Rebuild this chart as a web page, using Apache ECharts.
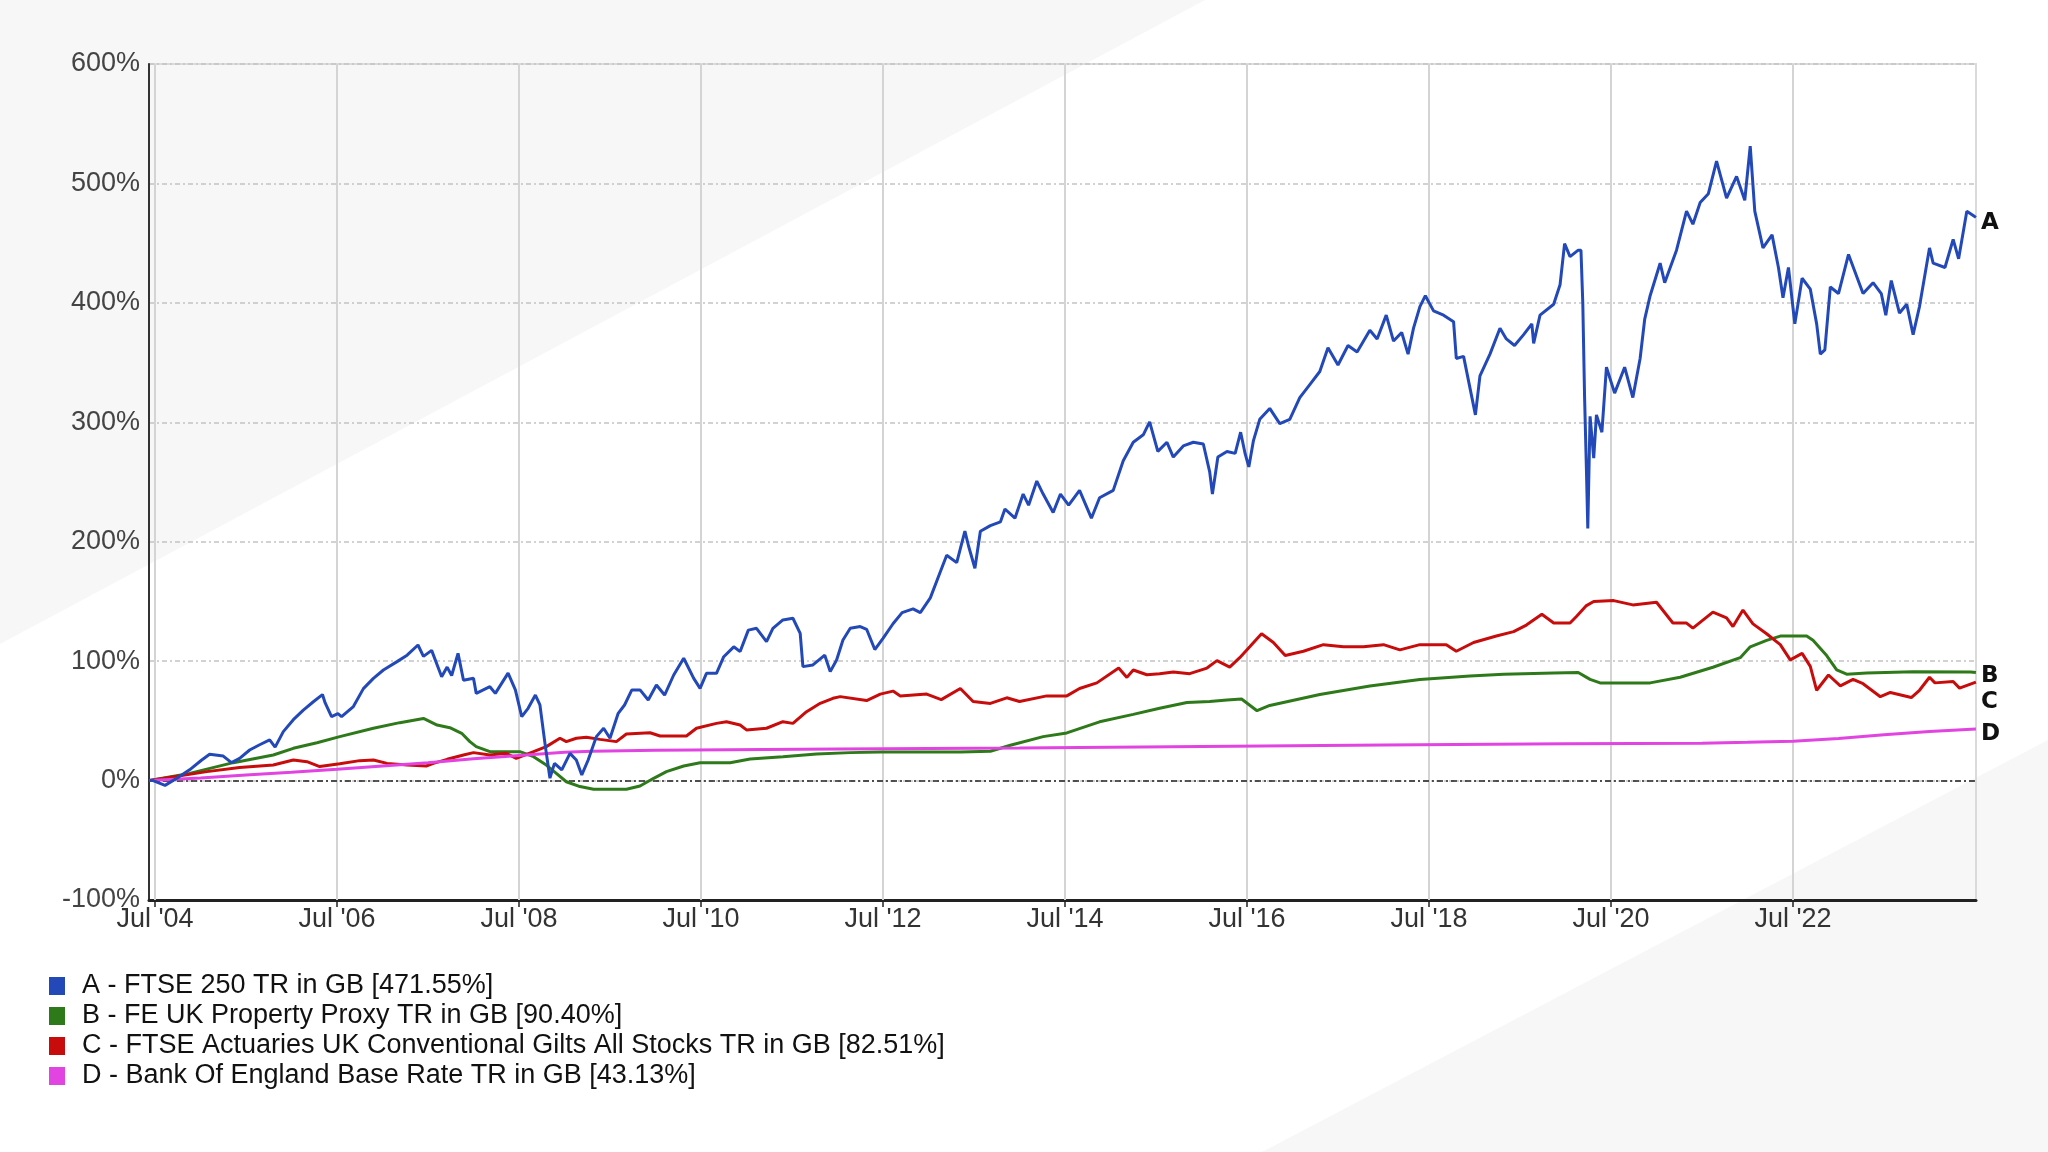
<!DOCTYPE html>
<html>
<head>
<meta charset="utf-8">
<script src="https://cdn.jsdelivr.net/npm/echarts@6/dist/echarts.min.js"></script>
<style>
html,body{margin:0;padding:0;background:#fff;}
#chart{width:2048px;height:1152px;}
</style>
</head>
<body>
<div id="chart"></div>
<script>
// ---- tick labels (x axis, decimal years) ----
const tickYears = [2004.5, 2006.5, 2008.5, 2010.5, 2012.5, 2014.5, 2016.5, 2018.5, 2020.5, 2022.5];
const tickLabels = ["Jul '04", "Jul '06", "Jul '08", "Jul '10", "Jul '12", "Jul '14", "Jul '16", "Jul '18", "Jul '20", "Jul '22"];

// ---- series names ----
const seriesNames = [
  "A - FTSE 250 TR in GB [471.55%]",
  "B - FE UK Property Proxy TR in GB [90.40%]",
  "C - FTSE Actuaries UK Conventional Gilts All Stocks TR in GB [82.51%]",
  "D - Bank Of England Base Rate TR in GB [43.13%]"
];
const endLetters = ["A", "B", "C", "D"];

// ---- A: FTSE 250 TR (decimal year, % growth) ----
const aYears = [2004.44,2004.48,2004.61,2004.74,2004.88,2005.01,2005.10,2005.25,2005.34,2005.43,2005.54,2005.65,2005.76,2005.82,2005.91,2006.02,2006.13,2006.24,2006.34,2006.37,2006.44,2006.51,2006.55,2006.68,2006.79,2006.90,2007.01,2007.16,2007.27,2007.39,2007.45,2007.54,2007.65,2007.71,2007.76,2007.83,2007.89,2008.00,2008.03,2008.18,2008.24,2008.38,2008.46,2008.53,2008.60,2008.68,2008.73,2008.79,2008.84,2008.89,2008.97,2009.06,2009.13,2009.19,2009.26,2009.35,2009.43,2009.50,2009.59,2009.66,2009.74,2009.83,2009.92,2010.01,2010.10,2010.20,2010.31,2010.42,2010.49,2010.56,2010.67,2010.75,2010.86,2010.93,2011.02,2011.11,2011.22,2011.29,2011.40,2011.51,2011.59,2011.62,2011.73,2011.86,2011.92,2011.99,2012.06,2012.14,2012.25,2012.32,2012.41,2012.50,2012.61,2012.71,2012.83,2012.91,2013.02,2013.13,2013.20,2013.31,2013.40,2013.44,2013.51,2013.57,2013.68,2013.79,2013.84,2013.95,2014.04,2014.10,2014.19,2014.26,2014.37,2014.45,2014.54,2014.66,2014.79,2014.88,2015.03,2015.14,2015.25,2015.36,2015.43,2015.52,2015.62,2015.69,2015.80,2015.91,2016.02,2016.09,2016.12,2016.18,2016.28,2016.37,2016.43,2016.48,2016.52,2016.57,2016.64,2016.75,2016.86,2016.97,2017.08,2017.19,2017.30,2017.39,2017.50,2017.61,2017.71,2017.85,2017.93,2018.03,2018.11,2018.20,2018.27,2018.33,2018.40,2018.46,2018.55,2018.66,2018.77,2018.80,2018.88,2019.01,2019.06,2019.17,2019.28,2019.35,2019.44,2019.54,2019.63,2019.65,2019.72,2019.87,2019.94,2019.99,2020.05,2020.14,2020.17,2020.19,2020.21,2020.23,2020.245,2020.27,2020.31,2020.34,2020.40,2020.45,2020.54,2020.65,2020.74,2020.82,2020.87,2020.93,2021.04,2021.09,2021.22,2021.33,2021.40,2021.48,2021.57,2021.66,2021.77,2021.88,2021.97,2022.03,2022.08,2022.17,2022.27,2022.34,2022.39,2022.45,2022.52,2022.60,2022.69,2022.76,2022.80,2022.85,2022.91,2023.00,2023.11,2023.27,2023.38,2023.47,2023.52,2023.58,2023.67,2023.75,2023.82,2023.89,2024.00,2024.04,2024.17,2024.26,2024.32,2024.41,2024.48,2024.51];
const aValues = [0,0,-4,2,9,17,22,20.5,15,18.6,25.6,30,34,28,41,51,59,66,72,65,53.5,56,53.5,62,77,85.6,92.6,99.6,105,113.5,104,109,87,95,88,106.5,84,85.6,73,78.6,73,90,76,53.5,60.5,71.6,63.3,28.4,2,14.4,8.9,22.8,17.2,4.7,17.2,36.8,43.8,35.4,56.3,63.3,75.9,75.9,67.5,80,71.6,88.4,102.4,85.6,77.2,89.8,89.8,103.7,112,108,126,127.5,116.3,127.5,134.5,135.9,123.3,95.4,96.8,105,91.2,101,117.7,127.5,129,126.7,109.7,119,131.3,140.6,143.8,140.6,153,174.8,188.7,182.5,208.8,196.4,177.8,208.8,213.5,216.6,227.4,219.7,239.9,230.6,250.8,239.9,224.4,239.9,230.6,243,219.7,236.8,243,267.8,283.3,289.5,300.4,275.6,283.3,270.9,280.2,283.3,281.8,258.5,239.9,270.9,275.6,274,291.7,273.5,262.6,284.4,302.5,311.6,298.9,302.5,320.7,331.6,342.5,362.5,348,364.3,358.9,377,369.8,389.7,368,375.2,357.1,378.8,396.9,406,393.3,389.7,384.2,353.4,355.2,306.2,338.9,357.1,378.8,369.8,364.3,373.4,382.4,366.1,389.7,398.8,415.1,449.6,438.7,444.1,444,400,320,260,211,305,270,306.2,291.7,346.1,324.4,346.1,320.7,353.4,386.1,406,433.2,416.9,444.1,476.8,465.9,484,491.4,518.6,487.7,505.9,485.9,531.3,476.8,446,456.9,429.6,404.2,429.6,382.4,420.6,411.5,382.4,357.1,360.7,413.3,407.8,440.5,407.8,416.9,407.8,389.7,418.7,391.5,398.8,373.4,396.9,446,433.2,429.6,453.2,436.9,476.8,473.2,471.55];

// ---- B: FE UK Property Proxy TR ----
const bYears = [2004.44,2004.88,2005.36,2005.80,2006.02,2006.28,2006.53,2006.90,2007.19,2007.45,2007.60,2007.74,2007.87,2007.96,2008.03,2008.18,2008.51,2008.66,2008.80,2008.91,2009.02,2009.17,2009.32,2009.68,2009.83,2009.98,2010.12,2010.31,2010.49,2010.82,2011.04,2011.40,2011.77,2012.14,2012.47,2013.35,2013.68,2013.90,2014.26,2014.52,2014.88,2015.25,2015.54,2015.84,2016.09,2016.28,2016.44,2016.61,2016.75,2017.30,2017.85,2018.40,2018.95,2019.32,2019.87,2020.14,2020.27,2020.38,2020.93,2021.26,2021.62,2021.92,2022.03,2022.21,2022.36,2022.65,2022.72,2022.87,2022.98,2023.09,2023.31,2023.82,2024.45,2024.51];
const bValues = [0,6,15,21.4,27,31.7,36.8,43.8,48.5,52,46.5,44.3,39.6,32.6,28.4,24.2,24.2,20,13,6,-1,-5,-7.3,-7.3,-4.5,1.9,7.5,12.2,15,15,18,20,22.3,23.4,24,24,24.6,29.6,36.8,39.9,49.2,55.4,60.6,65.3,66.2,67.5,68.3,58.5,62.9,72,79.2,84.7,87.6,89.1,90.1,90.5,84.7,81.8,81.8,86.5,94.9,102.9,112,117.4,121,121,117.4,104.7,92.7,89.1,90.1,91.2,91,90.4];

// ---- C: FTSE Actuaries UK Conventional Gilts All Stocks TR ----
const cYears = [2004.44,2005.07,2005.43,2005.80,2006.02,2006.17,2006.31,2006.53,2006.75,2006.90,2007.05,2007.27,2007.48,2007.56,2007.71,2007.89,2008.00,2008.18,2008.36,2008.47,2008.66,2008.80,2008.95,2009.02,2009.13,2009.24,2009.39,2009.57,2009.68,2009.94,2010.05,2010.34,2010.45,2010.67,2010.78,2010.93,2011.00,2011.22,2011.40,2011.51,2011.66,2011.81,2011.95,2012.03,2012.32,2012.47,2012.61,2012.69,2012.98,2013.14,2013.35,2013.49,2013.68,2013.86,2014.00,2014.30,2014.52,2014.66,2014.85,2015.09,2015.18,2015.25,2015.40,2015.54,2015.69,2015.87,2016.06,2016.17,2016.31,2016.42,2016.53,2016.66,2016.79,2016.92,2017.12,2017.34,2017.56,2017.78,2018.00,2018.18,2018.40,2018.69,2018.80,2018.99,2019.24,2019.43,2019.57,2019.74,2019.87,2020.05,2020.12,2020.23,2020.31,2020.53,2020.74,2021.00,2021.18,2021.33,2021.40,2021.62,2021.77,2021.84,2021.95,2022.06,2022.21,2022.36,2022.47,2022.60,2022.69,2022.76,2022.89,2023.02,2023.16,2023.27,2023.46,2023.57,2023.80,2023.89,2024.00,2024.06,2024.26,2024.33,2024.51];
const cValues = [0,7.5,11,13,17.2,15.8,11.7,14,16.7,17.2,14.4,13,12.2,14.4,17.8,21.4,23.4,21.4,22.8,18.6,24.2,28.4,35.4,32.6,35.4,36.2,34.5,32.6,39,40,37.3,37.3,43.8,47.9,49.3,46.5,42.4,43.8,49.3,47.9,57.7,64.7,68.9,70.3,67,72.4,74.9,70.9,72.4,67.8,77.1,66.2,64.6,69.3,66.2,70.9,70.9,77.1,81.8,94.2,86.4,92.6,88.6,89.5,91,89.5,94.2,100.4,95,102.9,112,122.9,115.6,104.7,108.3,113.8,112,112,113.8,109.4,113.8,113.8,108.3,115.6,121,124.7,130.2,139.2,131.9,131.9,137.4,146.5,150,150.7,147.1,149.3,131.9,131.9,127.6,141,136.3,129,142.8,131.2,122.9,113.8,101.1,106.5,95.6,75.6,88.4,79.3,84.7,81.1,70.2,73.8,69.5,75.6,86.5,81.8,82.9,77.4,82.51];

// ---- D: Bank Of England Base Rate TR ----
const dYears = [2004.44,2005.0,2005.5,2006.0,2006.5,2007.0,2007.5,2008.0,2008.5,2009.0,2009.3,2010.0,2012.0,2014.0,2016.0,2018.0,2020.0,2021.5,2022.0,2022.5,2023.0,2023.5,2024.0,2024.51];
const dValues = [0,2.2,4.6,7,9.5,12.3,15,18.2,21,23.8,24.5,25.3,26.5,27.3,28.5,29.8,30.8,31.2,32,33,35.3,38.3,41,43.13];

// ---- y axis ----
const yMin = -100, yMax = 600, yStep = 100;

const colors = ['#2349b8', '#2e7a1b', '#c80c0c', '#e244e2'];
const FONT = 'Liberation Sans, Arial, sans-serif';

function pairs(xs, ys) { return xs.map((x, i) => [x, ys[i]]); }

const chart = echarts.init(document.getElementById('chart'), null, {renderer: 'canvas'});

const seriesData = [pairs(aYears, aValues), pairs(bYears, bValues), pairs(cYears, cValues), pairs(dYears, dValues)];
const zOrder = [6, 3, 4, 5];
const endOffsets = [[0, 6], [0, 3], [0, 20], [0, 5]];

const dataSeries = seriesData.map((d, i) => ({
  name: seriesNames[i],
  type: 'line',
  data: d,
  z: zOrder[i],
  showSymbol: false,
  symbol: 'none',
  lineStyle: {color: colors[i], width: 3},
  itemStyle: {color: colors[i]},
  emphasis: {disabled: true},
  endLabel: {
    show: true,
    formatter: endLetters[i],
    color: '#111',
    fontFamily: 'DejaVu Sans, sans-serif',
    fontWeight: 'bold',
    fontSize: 23,
    distance: 5,
    offset: endOffsets[i]
  }
}));

const helper = {
  name: '__grid',
  type: 'line',
  data: [],
  z: 1,
  silent: true,
  markLine: {
    z: 1,
    silent: true,
    symbol: ['none', 'none'],
    label: {show: false},
    animation: false,
    data: tickYears.map(t => ({xAxis: t, lineStyle: {color: '#d4d4d4', width: 2, type: 'solid'}}))
      .concat([{yAxis: 0, lineStyle: {color: '#222', width: 1.5, type: [6, 3, 2, 3]}}])
  }
};

chart.setOption({
  animation: false,
  backgroundColor: '#ffffff',
  textStyle: {fontFamily: FONT},
  graphic: [
    {type: 'polygon', z: -10, silent: true, shape: {points: [[0, 0], [1205, 0], [0, 644]]}, style: {fill: '#f7f7f7'}},
    {type: 'polygon', z: -10, silent: true, shape: {points: [[2048, 740], [2048, 1152], [1262, 1152]]}, style: {fill: '#f7f7f7'}}
  ],
  grid: {
    left: 149, right: 72, top: 64, bottom: 252,
    show: true, borderColor: '#dadada', borderWidth: 2, backgroundColor: 'transparent'
  },
  legend: {
    data: seriesNames,
    orient: 'vertical',
    left: 44, top: 966,
    itemWidth: 16, itemHeight: 18, itemGap: 0,
    icon: 'rect',
    selectedMode: false,
    itemStyle: {borderWidth: 0},
    textStyle: {fontSize: 27, color: '#111', fontFamily: FONT, lineHeight: 30, padding: [0, 0, 0, 12]}
  },
  xAxis: {
    type: 'value',
    min: 2004.434, max: 2024.511,
    axisLine: {show: true, onZero: false, lineStyle: {color: '#222', width: 3}},
    axisTick: {show: true, customValues: tickYears, length: 7, lineStyle: {color: '#222', width: 1.5}},
    splitLine: {show: false},
    axisLabel: {
      customValues: tickYears,
      margin: 6,
      fontSize: 27, color: '#333', fontFamily: FONT,
      formatter: function (v) {
        const i = tickYears.findIndex(t => Math.abs(t - v) < 1e-6);
        return i >= 0 ? tickLabels[i] : '';
      }
    }
  },
  yAxis: {
    type: 'value',
    min: yMin, max: yMax, interval: yStep,
    axisLine: {show: true, onZero: false, lineStyle: {color: '#333', width: 2}},
    axisTick: {show: false},
    splitLine: {show: true, lineStyle: {color: '#c4c4c4', width: 1.5, type: [5, 3, 2, 3]}},
    axisLabel: {margin: 9, fontSize: 27, color: '#444', fontFamily: FONT, formatter: v => v + '%'}
  },
  series: dataSeries.concat([helper])
});
</script>
</body>
</html>
